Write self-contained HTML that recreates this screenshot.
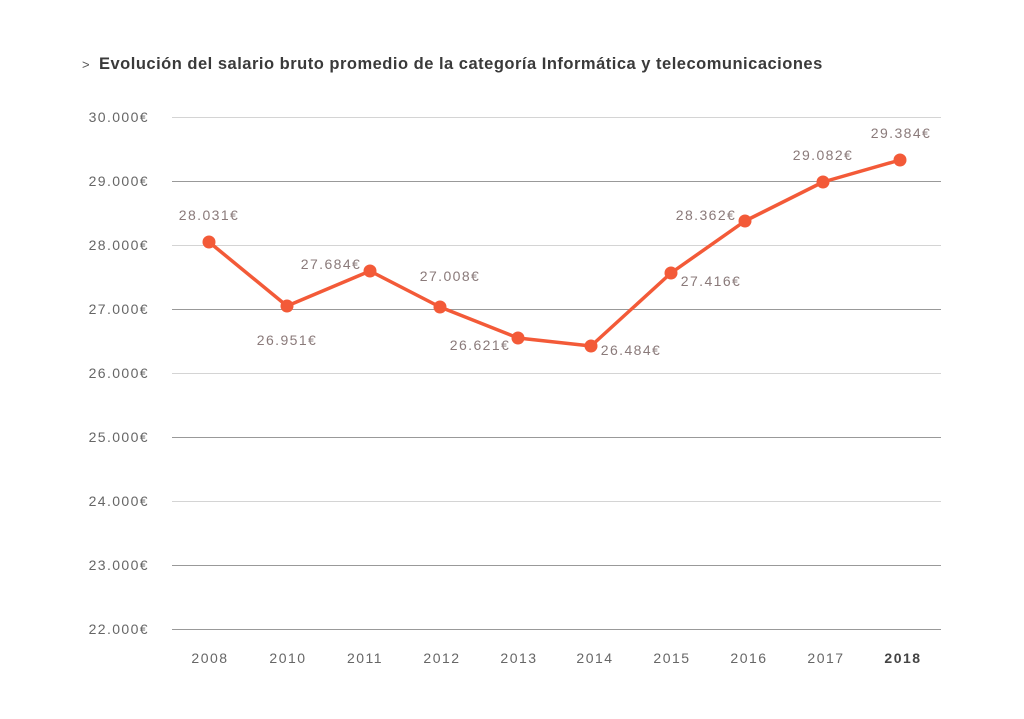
<!DOCTYPE html>
<html><head><meta charset="utf-8"><style>
body{margin:0;background:#fff;}
svg{display:block;font-family:"Liberation Sans",sans-serif;}
</style></head><body>
<svg width="1024" height="719" xmlns="http://www.w3.org/2000/svg">
<text x="82" y="69" font-size="13" fill="#555">&gt;</text>
<text x="99" y="69" font-size="16.5" font-weight="bold" fill="#3a3a3a" letter-spacing="0.5">Evolución del salario bruto promedio de la categoría Informática y telecomunicaciones</text>
<g stroke-width="1">
<line x1="172" x2="941" y1="117.5" y2="117.5" stroke="#d4d4d4"/>
<line x1="172" x2="941" y1="181.5" y2="181.5" stroke="#999"/>
<line x1="172" x2="941" y1="245.5" y2="245.5" stroke="#d4d4d4"/>
<line x1="172" x2="941" y1="309.5" y2="309.5" stroke="#999"/>
<line x1="172" x2="941" y1="373.5" y2="373.5" stroke="#d4d4d4"/>
<line x1="172" x2="941" y1="437.5" y2="437.5" stroke="#999"/>
<line x1="172" x2="941" y1="501.5" y2="501.5" stroke="#d4d4d4"/>
<line x1="172" x2="941" y1="565.5" y2="565.5" stroke="#999"/>
<line x1="172" x2="941" y1="629.5" y2="629.5" stroke="#999"/>
</g>
<g font-size="14" fill="#666" text-anchor="end" letter-spacing="1.4">
<text x="149" y="122">30.000€</text>
<text x="149" y="186">29.000€</text>
<text x="149" y="250">28.000€</text>
<text x="149" y="314">27.000€</text>
<text x="149" y="378">26.000€</text>
<text x="149" y="442">25.000€</text>
<text x="149" y="506">24.000€</text>
<text x="149" y="570">23.000€</text>
<text x="149" y="634">22.000€</text>
</g>
<g font-size="14" fill="#666" text-anchor="middle" letter-spacing="1.5">
<text x="210" y="663">2008</text><text x="288" y="663">2010</text><text x="365" y="663">2011</text>
<text x="442" y="663">2012</text><text x="519" y="663">2013</text><text x="595" y="663">2014</text>
<text x="672" y="663">2015</text><text x="749" y="663">2016</text><text x="826" y="663">2017</text>
<text x="903" y="663" font-weight="bold" fill="#444">2018</text>
</g>
<polyline fill="none" stroke="#f35a38" stroke-width="3.5" stroke-linejoin="round" points="209,242 287,306 370,271 440,307 518,338 591,346 671,273 745,221 823,182 900,160"/>
<g fill="#f35a38">
<circle cx="209" cy="242" r="6.5"/><circle cx="287" cy="306" r="6.5"/><circle cx="370" cy="271" r="6.5"/>
<circle cx="440" cy="307" r="6.5"/><circle cx="518" cy="338" r="6.5"/><circle cx="591" cy="346" r="6.5"/>
<circle cx="671" cy="273" r="6.5"/><circle cx="745" cy="221" r="6.5"/><circle cx="823" cy="182" r="6.5"/>
<circle cx="900" cy="160" r="6.5"/>
</g>
<g font-size="14" fill="#8a7a7a" text-anchor="middle" letter-spacing="1.4">
<text x="209" y="220">28.031€</text>
<text x="287" y="345">26.951€</text>
<text x="331" y="269">27.684€</text>
<text x="450" y="281">27.008€</text>
<text x="480" y="350">26.621€</text>
<text x="631" y="355">26.484€</text>
<text x="711" y="286">27.416€</text>
<text x="706" y="220">28.362€</text>
<text x="823" y="160">29.082€</text>
<text x="901" y="138">29.384€</text>
</g>
</svg>
</body></html>
